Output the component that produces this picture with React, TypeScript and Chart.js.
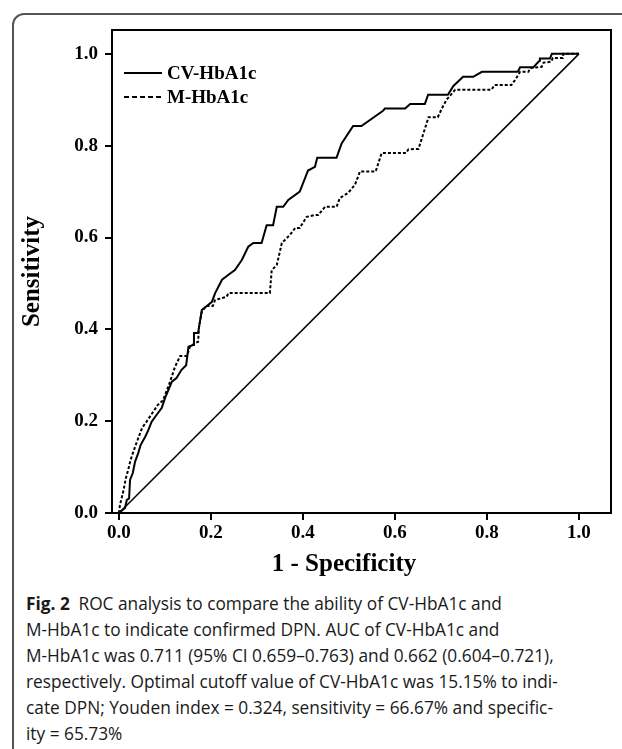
import React, { useEffect, useRef } from "react";
import { Chart, registerables } from "chart.js";

Chart.register(...registerables);

// ---- data ----
const xTicks = [0, 0.2, 0.4, 0.6, 0.8, 1.0];
const yTicks = [0, 0.2, 0.4, 0.6, 0.8, 1.0];

const seriesLabels = ["CV-HbA1c", "M-HbA1c"];

const cvFpr = [0, 0.013, 0.017, 0.022, 0.024, 0.03, 0.035, 0.042, 0.047, 0.057, 0.064, 0.071, 0.082, 0.093, 0.1, 0.115, 0.125, 0.136, 0.146, 0.151, 0.161, 0.163, 0.172, 0.18, 0.191, 0.202, 0.209, 0.224, 0.238, 0.252, 0.267, 0.281, 0.292, 0.31, 0.321, 0.335, 0.343, 0.357, 0.368, 0.393, 0.411, 0.426, 0.431, 0.473, 0.484, 0.509, 0.527, 0.574, 0.578, 0.622, 0.633, 0.665, 0.672, 0.715, 0.727, 0.748, 0.77, 0.789, 0.867, 0.872, 0.901, 0.914, 0.915, 0.937, 0.941, 1.0];
const cvTpr = [0, 0.011, 0.028, 0.032, 0.072, 0.087, 0.112, 0.131, 0.148, 0.166, 0.181, 0.199, 0.214, 0.229, 0.25, 0.286, 0.294, 0.312, 0.322, 0.362, 0.366, 0.392, 0.392, 0.442, 0.451, 0.46, 0.479, 0.508, 0.519, 0.529, 0.551, 0.58, 0.588, 0.588, 0.627, 0.627, 0.667, 0.667, 0.682, 0.7, 0.746, 0.754, 0.774, 0.774, 0.805, 0.843, 0.843, 0.876, 0.881, 0.881, 0.891, 0.891, 0.911, 0.911, 0.93, 0.95, 0.95, 0.961, 0.961, 0.971, 0.971, 0.985, 0.99, 0.99, 1.0, 1.0];

const mFpr = [0, 0.002, 0.01, 0.015, 0.02, 0.025, 0.031, 0.039, 0.05, 0.06, 0.074, 0.084, 0.096, 0.111, 0.122, 0.133, 0.148, 0.154, 0.165, 0.172, 0.174, 0.18, 0.189, 0.204, 0.209, 0.234, 0.238, 0.328, 0.332, 0.343, 0.354, 0.365, 0.375, 0.383, 0.393, 0.408, 0.426, 0.433, 0.448, 0.473, 0.48, 0.498, 0.513, 0.524, 0.558, 0.571, 0.624, 0.629, 0.651, 0.673, 0.693, 0.702, 0.712, 0.731, 0.81, 0.816, 0.853, 0.861, 0.872, 0.89, 0.894, 0.919, 0.923, 0.94, 0.943, 0.965, 0.966, 1.0];
const mTpr = [0, 0.017, 0.05, 0.076, 0.094, 0.115, 0.133, 0.155, 0.185, 0.199, 0.22, 0.235, 0.246, 0.286, 0.319, 0.342, 0.342, 0.362, 0.37, 0.373, 0.406, 0.438, 0.451, 0.451, 0.464, 0.471, 0.479, 0.479, 0.529, 0.54, 0.588, 0.599, 0.61, 0.621, 0.621, 0.645, 0.649, 0.649, 0.667, 0.667, 0.686, 0.697, 0.715, 0.744, 0.744, 0.784, 0.784, 0.792, 0.793, 0.862, 0.862, 0.881, 0.9, 0.922, 0.922, 0.932, 0.932, 0.943, 0.961, 0.961, 0.969, 0.972, 0.981, 0.983, 0.991, 0.991, 1.0, 1.0];

const refFpr = [0, 1];
const refTpr = [0, 1];

const xTitle = "1 - Specificity";
const yTitle = "Sensitivity";

const captionBold = "Fig. 2";
const captionLines = [
  "ROC analysis to compare the ability of CV-HbA1c and",
  "M-HbA1c to indicate confirmed DPN. AUC of CV-HbA1c and",
  "M-HbA1c was 0.711 (95% CI 0.659–0.763) and 0.662 (0.604–0.721),",
  "respectively. Optimal cutoff value of CV-HbA1c was 15.15% to indi-",
  "cate DPN; Youden index = 0.324, sensitivity = 66.67% and specific-",
  "ity = 65.73%",
];

const SERIF = "'Liberation Serif', 'Times New Roman', serif";

const toPts = (xs: number[], ys: number[]) => xs.map((x, i) => ({ x, y: ys[i] }));

const framePlugin = {
  id: "frameBox",
  afterDraw(chart: any) {
    const { ctx, chartArea } = chart;
    ctx.save();
    ctx.strokeStyle = "#000";
    ctx.lineWidth = 2;
    ctx.strokeRect(chartArea.left, chartArea.top, chartArea.right - chartArea.left, chartArea.bottom - chartArea.top);
    ctx.restore();
  },
};

const legendPlugin = {
  id: "rocLegend",
  afterDraw(chart: any) {
    const { ctx, chartArea } = chart;
    const items = chart.data.datasets
      .filter((d: any) => d.legendOrder !== undefined)
      .sort((a: any, b: any) => a.legendOrder - b.legendOrder);
    ctx.save();
    items.forEach((d: any, i: number) => {
      const y = chartArea.top + 43 + i * 24;
      const x0 = chartArea.left + 12;
      ctx.strokeStyle = d.borderColor;
      ctx.lineWidth = 2;
      ctx.setLineDash(d.legendDash || []);
      ctx.beginPath();
      ctx.moveTo(x0, y);
      ctx.lineTo(x0 + 38, y);
      ctx.stroke();
      ctx.setLineDash([]);
      ctx.fillStyle = "#000";
      ctx.font = `bold 19px ${SERIF}`;
      ctx.textAlign = "left";
      ctx.textBaseline = "middle";
      ctx.fillText(d.label, x0 + 43, y + 1);
    });
    ctx.restore();
  },
};

const xTitlePlugin = {
  id: "xTitleText",
  afterDraw(chart: any) {
    const { ctx } = chart;
    ctx.save();
    ctx.fillStyle = "#000";
    ctx.font = `bold 25px ${SERIF}`;
    ctx.textAlign = "center";
    ctx.textBaseline = "middle";
    ctx.fillText(xTitle, 344, 565);
    ctx.restore();
  },
};

export default function App() {
  const ref = useRef<HTMLCanvasElement | null>(null);

  useEffect(() => {
    if (!ref.current) return;
    const chart = new Chart(ref.current, {
      type: "line",
      data: {
        datasets: [
          {
            label: "Reference",
            data: toPts(refFpr, refTpr),
            borderColor: "#000",
            borderWidth: 1.5,
            pointRadius: 0,
            tension: 0,
          } as any,
          {
            label: seriesLabels[1],
            data: toPts(mFpr, mTpr),
            borderColor: "#000",
            borderWidth: 2,
            borderDash: [3, 2],
            pointRadius: 0,
            tension: 0,
            legendOrder: 1,
            legendDash: [5, 3],
          } as any,
          {
            label: seriesLabels[0],
            data: toPts(cvFpr, cvTpr),
            borderColor: "#000",
            borderWidth: 2,
            pointRadius: 0,
            tension: 0,
            legendOrder: 0,
          } as any,
        ],
      },
      options: {
        animation: false,
        responsive: false,
        devicePixelRatio: 1,
        layout: { padding: { left: 0, top: 30, right: 11, bottom: 0 } },
        plugins: { legend: { display: false }, tooltip: { enabled: false } },
        scales: {
          x: {
            type: "linear",
            min: -0.0152,
            max: 1.0696,
            afterBuildTicks: (s: any) => {
              s.ticks = xTicks.map((v) => ({ value: v }));
            },
            afterFit: (s: any) => {
              s.height = 67;
            },
            ticks: {
              autoSkip: false,
              maxRotation: 0,
              padding: 2,
              color: "#000",
              font: { family: SERIF, size: 19, weight: "bold" },
              callback: (v: any) => Number(v).toFixed(1),
            },
            grid: { drawOnChartArea: false, drawTicks: true, tickLength: 7, color: "#000", lineWidth: 2 },
            border: { display: true, color: "#000", width: 2 },
          },
          y: {
            type: "linear",
            min: 0,
            max: 1.052,
            afterBuildTicks: (s: any) => {
              s.ticks = yTicks.map((v) => ({ value: v }));
            },
            afterFit: (s: any) => {
              s.width = 112;
            },
            ticks: {
              autoSkip: false,
              padding: 7,
              color: "#000",
              font: { family: SERIF, size: 19, weight: "bold" },
              callback: (v: any) => Number(v).toFixed(1),
            },
            grid: { drawOnChartArea: false, drawTicks: true, tickLength: 7, color: "#000", lineWidth: 2 },
            border: { display: true, color: "#000", width: 2 },
            title: {
              display: true,
              text: yTitle,
              color: "#000",
              font: { family: SERIF, size: 25, weight: "bold" },
              padding: { top: 18, bottom: 0 },
            },
          },
        },
      } as any,
      plugins: [framePlugin, legendPlugin, xTitlePlugin],
    });
    return () => chart.destroy();
  }, []);

  return (
    <div style={{ position: "absolute", left: 0, top: 0, width: 622, height: 749, overflow: "hidden", background: "#fff" }}>
      <div
        style={{
          position: "absolute",
          left: 12,
          top: 13,
          width: 700,
          height: 800,
          border: "2px solid #555",
          borderTopLeftRadius: 12,
          boxSizing: "border-box",
        }}
      />
      <canvas ref={ref} width={622} height={580} style={{ position: "absolute", left: 0, top: 0, width: 622, height: 580 }} />
      <div
        style={{
          position: "absolute",
          left: 26,
          top: 590,
          fontFamily: "'Open Sans', 'Noto Sans', sans-serif",
          fontSize: 18,
          lineHeight: "26px",
          color: "#1a1a1a",
          whiteSpace: "nowrap",
          transform: "scaleX(0.96)",
          transformOrigin: "left top",
        }}
      >
        {captionLines.map((line, i) => (
          <div key={i}>
            {i === 0 ? <span style={{ fontWeight: 700, marginRight: 9 }}>{captionBold}</span> : null}
            {line}
          </div>
        ))}
      </div>
    </div>
  );
}
